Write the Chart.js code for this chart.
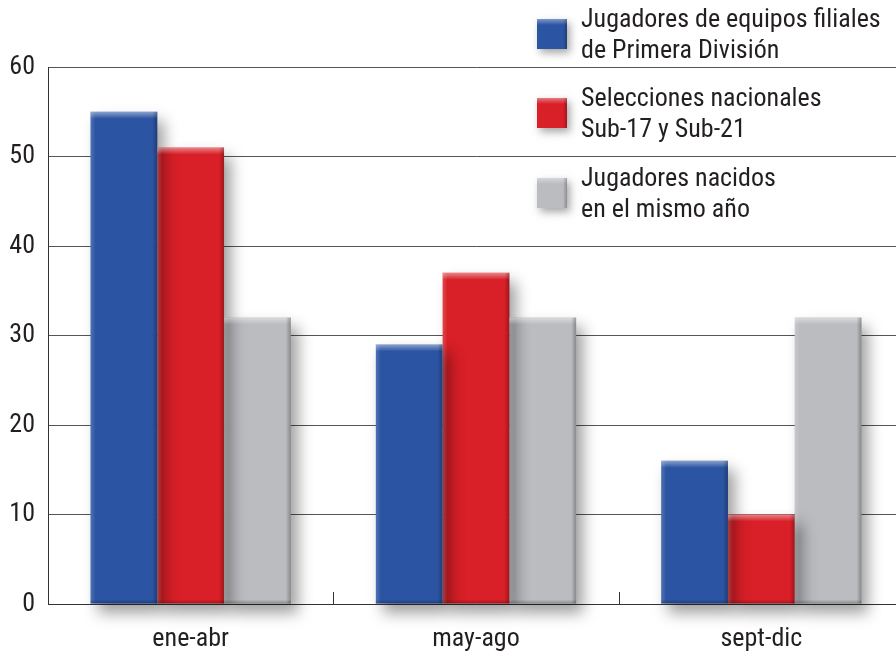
<!DOCTYPE html>
<html>
<head>
<meta charset="utf-8">
<script src="https://cdn.jsdelivr.net/npm/chart.js@4/dist/chart.umd.min.js"></script>
<style>
  html, body { margin: 0; padding: 0; background: #fff; overflow: hidden; }
  #wrap { width: 904px; height: 656px; }
</style>
</head>
<body>
<div id="wrap"><canvas id="c" width="904" height="656"></canvas></div>
<script>
// Periods of birth
const categories = ['ene-abr', 'may-ago', 'sept-dic'];

// Share of players born in each period (%)
const filiales = [55, 29, 16];
const selecciones = [51, 37, 10];
const nacidos = [32, 32, 32];

const seriesNames = [
  'Jugadores de equipos filiales de Primera División',
  'Selecciones nacionales Sub-17 y Sub-21',
  'Jugadores nacidos en el mismo año'
];
// Legend text, broken over two lines per entry
const legendLines = [
  ['Jugadores de equipos filiales', 'de Primera División'],
  ['Selecciones nacionales', 'Sub-17 y Sub-21'],
  ['Jugadores nacidos', 'en el mismo año']
];
const yTicks = [0, 10, 20, 30, 40, 50, 60];

const FONT = '"Liberation Sans Narrow", "Roboto Condensed", "DejaVu Sans Condensed", sans-serif';
const colors = ['#2b54a3', '#d91f27', '#bbbcc0'];

// Soft drop shadow under the bars
const shadowPlugin = {
  id: 'barShadow',
  beforeDatasetsDraw(chart) {
    const ctx = chart.ctx;
    ctx.save();
    ctx.shadowColor = 'rgba(0,0,0,0.38)';
    ctx.shadowBlur = 14;
    ctx.shadowOffsetX = 7;
    ctx.shadowOffsetY = 9;
  },
  afterDatasetsDraw(chart) {
    chart.ctx.restore();
  }
};

// Bevel highlights on each bar
const bevelPlugin = {
  id: 'barBevel',
  afterDatasetsDraw(chart) {
    const ctx = chart.ctx;
    chart.data.datasets.forEach((ds, di) => {
      const meta = chart.getDatasetMeta(di);
      meta.data.forEach(bar => {
        const { x, y, base, width } = bar.getProps(['x', 'y', 'base', 'width'], true);
        const l = x - width / 2, r = x + width / 2, t = y, b = base;
        ctx.save();
        // top highlight
        let g = ctx.createLinearGradient(0, t, 0, t + 7);
        g.addColorStop(0, 'rgba(255,255,255,0.45)');
        g.addColorStop(1, 'rgba(255,255,255,0)');
        ctx.fillStyle = g;
        ctx.fillRect(l, t, width, 7);
        // left highlight
        g = ctx.createLinearGradient(l, 0, l + 5, 0);
        g.addColorStop(0, 'rgba(255,255,255,0.18)');
        g.addColorStop(1, 'rgba(255,255,255,0)');
        ctx.fillStyle = g;
        ctx.fillRect(l, t, 5, b - t);
        // right shade
        g = ctx.createLinearGradient(r - 5, 0, r, 0);
        g.addColorStop(0, 'rgba(0,0,0,0)');
        g.addColorStop(1, 'rgba(0,0,0,0.28)');
        ctx.fillStyle = g;
        ctx.fillRect(r - 5, t, 5, b - t);
        // bottom shade
        g = ctx.createLinearGradient(0, b - 4, 0, b);
        g.addColorStop(0, 'rgba(0,0,0,0)');
        g.addColorStop(1, 'rgba(0,0,0,0.25)');
        ctx.fillStyle = g;
        ctx.fillRect(l, b - 4, width, 4);
        ctx.restore();
      });
    });
  }
};

// Short category separators standing on the x axis
const sepTicksPlugin = {
  id: 'sepTicks',
  afterDatasetsDraw(chart) {
    const ctx = chart.ctx;
    const xs = chart.scales.x;
    const bottom = chart.chartArea.bottom;
    ctx.save();
    ctx.strokeStyle = '#333';
    ctx.lineWidth = 1;
    for (let i = 1; i < categories.length; i++) {
      const px = Math.round((xs.getPixelForValue(i - 1) + xs.getPixelForValue(i)) / 2) + 0.5;
      ctx.beginPath();
      ctx.moveTo(px, bottom);
      ctx.lineTo(px, bottom - 12);
      ctx.stroke();
    }
    ctx.restore();
  }
};

// Legend in the upper right corner
const legendPlugin = {
  id: 'cornerLegend',
  afterDraw(chart) {
    const ctx = chart.ctx;
    const boxX = 537, boxSize = 30, textX = 581;
    const tops = [19, 98, 178];
    ctx.save();
    chart.data.datasets.forEach((ds, i) => {
      const top = tops[i];
      ctx.save();
      ctx.shadowColor = 'rgba(0,0,0,0.35)';
      ctx.shadowBlur = 8;
      ctx.shadowOffsetX = 3;
      ctx.shadowOffsetY = 4;
      ctx.fillStyle = ds.backgroundColor;
      ctx.fillRect(boxX, top, boxSize, boxSize);
      ctx.restore();
      let g = ctx.createLinearGradient(0, top, 0, top + 6);
      g.addColorStop(0, 'rgba(255,255,255,0.4)');
      g.addColorStop(1, 'rgba(255,255,255,0)');
      ctx.fillStyle = g;
      ctx.fillRect(boxX, top, boxSize, 6);
      g = ctx.createLinearGradient(boxX + boxSize - 4, 0, boxX + boxSize, 0);
      g.addColorStop(0, 'rgba(0,0,0,0)');
      g.addColorStop(1, 'rgba(0,0,0,0.25)');
      ctx.fillStyle = g;
      ctx.fillRect(boxX + boxSize - 4, top, 4, boxSize);

      ctx.fillStyle = '#231f20';
      ctx.font = '26px ' + FONT;
      ctx.textBaseline = 'middle';
      ctx.textAlign = 'left';
      legendLines[i].forEach((line, j) => {
        ctx.fillText(line, textX, top + 1 + j * 31);
      });
    });
    ctx.restore();
  }
};

function build() {
  new Chart(document.getElementById('c'), {
    type: 'bar',
    data: {
      labels: categories,
      datasets: [
        { label: seriesNames[0], data: filiales, backgroundColor: colors[0] },
        { label: seriesNames[1], data: selecciones, backgroundColor: colors[1] },
        { label: seriesNames[2], data: nacidos, backgroundColor: colors[2] }
      ]
    },
    options: {
      responsive: false,
      animation: false,
      devicePixelRatio: 1,
      layout: { padding: { top: 67, right: 0, left: 0, bottom: 0 } },
      datasets: {
        bar: { categoryPercentage: 0.702, barPercentage: 1, borderWidth: 0, clip: false }
      },
      plugins: {
        legend: { display: false },
        tooltip: { enabled: false }
      },
      scales: {
        x: {
          offset: true,
          grid: { display: false, drawTicks: false },
          border: { display: true, color: '#333', width: 1 },
          ticks: { color: '#231f20', font: { family: FONT, size: 26 }, padding: 20 },
          afterFit(scale) { scale.height = 52; }
        },
        y: {
          min: 0,
          max: 60,
          afterBuildTicks(scale) { scale.ticks = yTicks.map(v => ({ value: v })); },
          grid: { color: '#555', lineWidth: 1, drawTicks: false },
          border: { display: true, color: '#333', width: 1 },
          ticks: { color: '#231f20', font: { family: FONT, size: 26 }, padding: 13 },
          afterFit(scale) { scale.width = 48; }
        }
      }
    },
    plugins: [shadowPlugin, bevelPlugin, sepTicksPlugin, legendPlugin]
  });
}

if (document.fonts && document.fonts.load) {
  document.fonts.load('26px "Liberation Sans Narrow"').then(build, build);
} else {
  build();
}
</script>
</body>
</html>
